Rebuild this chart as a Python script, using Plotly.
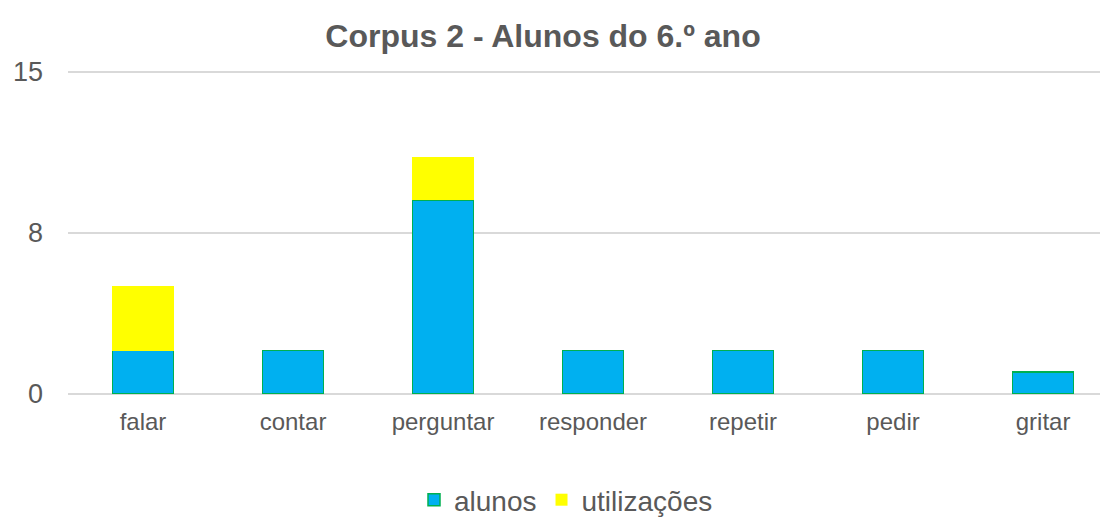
""" Corpus 2 - stacked bars of verbs used by 6th grade students """
import plotly.graph_objects as go

verbos = ['falar', 'contar', 'perguntar', 'responder', 'repetir', 'pedir', 'gritar']
alunos = [2, 2, 9, 2, 2, 2, 1]
utilizacoes = [3, 0, 2, 0, 0, 0, 0]
tick_vals = [0, 7.5, 15]
tick_text = ['0', '8', '15']

GREY = '#595959'
FONT = 'Liberation Sans, Arial, sans-serif'

# page body has an 8px margin, so the figure is 8px smaller on each side
W, H = 1100, 512

fig = go.Figure()
fig.add_trace(go.Bar(
    x=list(range(len(verbos))), y=alunos, name='alunos',
    width=0.407,
    marker={'color': '#00B0F0', 'line': {'color': '#00B050', 'width': 1.5}}))
fig.add_trace(go.Bar(
    x=list(range(len(verbos))), y=utilizacoes, name='utilizações',
    width=0.407,
    marker={'color': '#FFFF00', 'line': {'color': '#FFFF00', 'width': 0}}))

fig.update_layout(
    barmode='stack',
    width=W, height=H,
    margin={'l': 60, 'r': 0, 't': 62, 'b': 125},
    paper_bgcolor='white', plot_bgcolor='white',
    font={'family': FONT, 'color': GREY},
    title={
        'text': '<b>Corpus 2 - Alunos do 6.º ano</b>',
        'font': {'size': 32, 'color': GREY, 'family': FONT},
        'x': 535 / W, 'xanchor': 'center',
        'y': 1 - 28 / H, 'yanchor': 'middle', 'yref': 'container'},
    xaxis={
        'range': [-0.5, 6.433],
        'tickvals': list(range(len(verbos))),
        'ticktext': verbos,
        'tickfont': {'size': 24, 'color': GREY},
        'showgrid': False, 'zeroline': False, 'showline': False,
        'ticks': '', 'ticklabelstandoff': 10},
    yaxis={
        'range': [-0.07, 15.07],
        'tickvals': tick_vals, 'ticktext': tick_text,
        'tickfont': {'size': 27, 'color': GREY},
        'showgrid': True, 'gridcolor': '#D9D9D9', 'gridwidth': 1.5,
        'zeroline': False, 'showline': False, 'ticks': '',
        'ticklabelstandoff': 24},
    legend={
        'orientation': 'h',
        'x': 558 / W, 'xanchor': 'center', 'xref': 'container',
        'y': 1 - 492 / H, 'yanchor': 'middle', 'yref': 'container',
        'font': {'size': 28, 'color': GREY},
        'traceorder': 'normal'},
)

fig.write_html("out.html")
